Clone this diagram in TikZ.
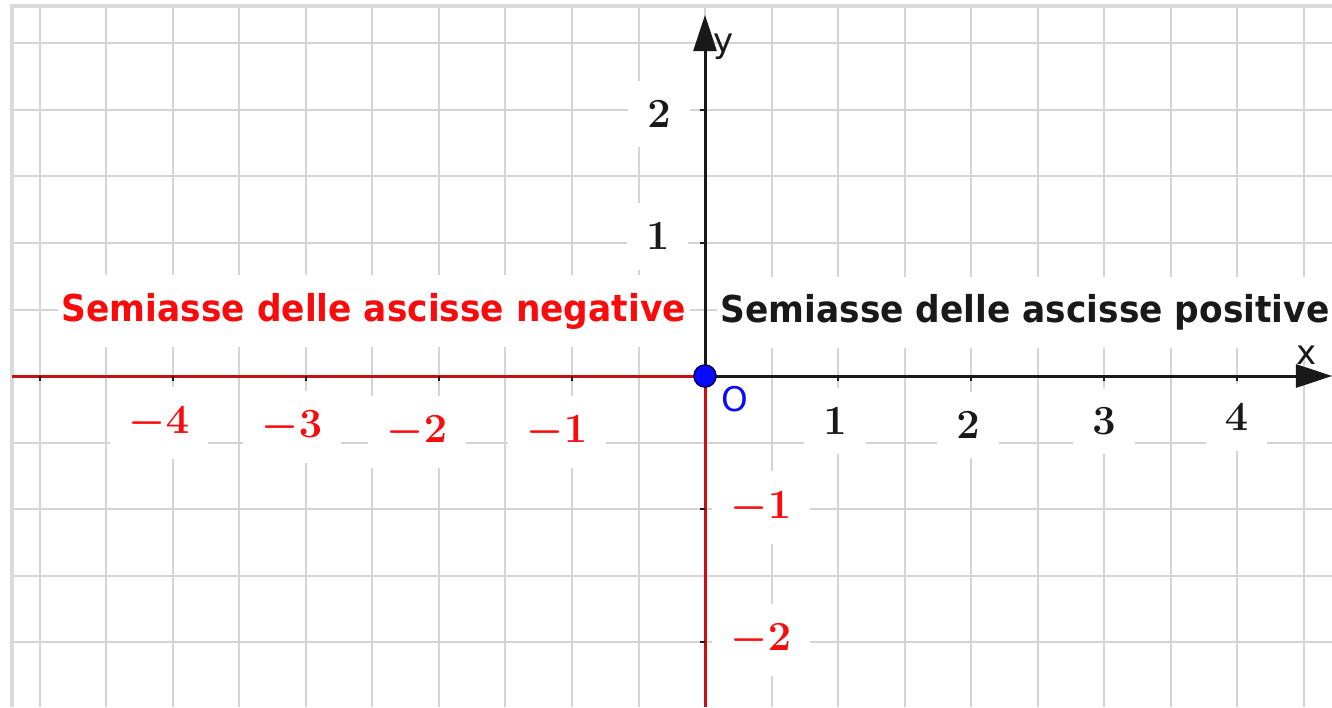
\documentclass[tikz,border=0pt]{standalone}
\usepackage{fontspec}
\usetikzlibrary{arrows.meta}
\newfontfamily\semifont[FakeStretch=0.93]{DejaVu Sans Bold}
\newfontfamily\axlabfont{DejaVu Sans}
\definecolor{gridgray}{RGB}{212,212,212}
\definecolor{framegray}{RGB}{218,218,218}
\definecolor{axisred}{RGB}{200,16,16}
\definecolor{labred}{RGB}{250,10,10}
\definecolor{axisblack}{RGB}{25,25,25}
\definecolor{dotblue}{RGB}{10,10,255}
\tikzset{
  gridline/.style={draw=gridgray, line width=1pt},
  frameline/.style={draw=framegray, line width=1.8pt},
  axisline/.style={line width=1.5pt},
  axisarrow/.style={axisline, -{Triangle[length=18pt,width=11.5pt]}},
  tickmark/.style={draw=axisblack, line width=1pt},
  semibox/.style={fill=white, inner xsep=2pt, inner ysep=8.8pt,
    font=\semifont\fontsize{18.5}{22}\selectfont},
  ticklab/.style={fill=white, inner xsep=9.5pt, inner ysep=10pt,
    font=\boldmath\fontsize{21.5}{26}\selectfont},
  axlab/.style={font=\axlabfont\fontsize{17}{20}\selectfont, inner sep=0pt},
}
\begin{document}
\begin{tikzpicture}[x=66.5pt,y=66.5pt]
\useasboundingbox (-5.30075,-2.48872) rectangle (4.71429,2.82707);
\fill[white] (-5.30075,-2.48872) rectangle (4.71429,2.82707);
% grid
\foreach \i in {-10,...,9} {
  \draw[gridline] (\i*0.5,-2.49) -- (\i*0.5,2.782);
}
\foreach \j in {-4,...,5} {
  \draw[gridline] (-5.211,\j*0.5) -- (4.72,\j*0.5);
}
% frame
\draw[frameline] (-5.211,-2.49) -- (-5.211,2.782) -- (4.72,2.782);
% coordinates
\coordinate (O) at (0,0);
\coordinate (xl) at (-5.211,0);
\coordinate (xr) at (4.714,0);
\coordinate (yt) at (0,2.714);
\coordinate (yb) at (0,-2.489);
% semi-axis texts
\node[semibox, text=labred] (neg) at (-2.49,0.489) {Semiasse delle ascisse negative};
\node[semibox, text=axisblack] (pos) at (2.406,0.48) {Semiasse delle ascisse positive};
% tick labels
\node[ticklab, text=axisblack] (ly2) at (-0.346,1.97) {$2$};
\node[ticklab, text=axisblack] (ly1) at (-0.355,1.05) {$1$};
\node[ticklab, text=axisblack] (lx1) at (0.977,-0.338) {$1$};
\node[ticklab, text=axisblack] (lx2) at (1.977,-0.368) {$2$};
\node[ticklab, text=axisblack] (lx3) at (3.0,-0.338) {$3$};
\node[ticklab, text=axisblack] (lx4) at (3.996,-0.312) {$4$};
\node[ticklab, text=labred] (lxm4) at (-4.105,-0.353) {$-4$};
\node[ticklab, text=labred] (lxm3) at (-3.105,-0.383) {$-3$};
\node[ticklab, text=labred] (lxm2) at (-2.165,-0.421) {$-2$};
\node[ticklab, text=labred] (lxm1) at (-1.113,-0.421) {$-1$};
\node[ticklab, text=labred] (lym1) at (0.421,-0.989) {$-1$};
\node[ticklab, text=labred] (lym2) at (0.421,-1.985) {$-2$};
% axes
\draw[axisline, axisred] (xl) -- (O);
\draw[axisline, axisred] (yb) -- (O);
\draw[axisarrow, axisblack] (O) -- (xr);
\draw[axisarrow, axisblack] (O) -- (yt);
% ticks
\foreach \k in {-5,-4,-3,-2,-1,1,2,3,4} {
  \draw[tickmark] (\k,0) -- (\k,-0.035);
}
\foreach \k in {-2,-1,1,2} {
  \draw[tickmark] (0,\k) -- (-0.035,\k);
}
% axis names and origin
\node[axlab, text=axisblack, anchor=base] (xname) at (4.526,0.083) {x};
\node[axlab, text=axisblack, anchor=base] (yname) at (0.143,2.436) {y};
\node[circle, fill=dotblue, draw=blue!40!black, line width=0.8pt,
  minimum size=11pt, inner sep=0pt] (dot) at (O) {};
\node[axlab, text=dotblue] (oname) at (0.222,-0.177) {O};
\end{tikzpicture}
\end{document}
